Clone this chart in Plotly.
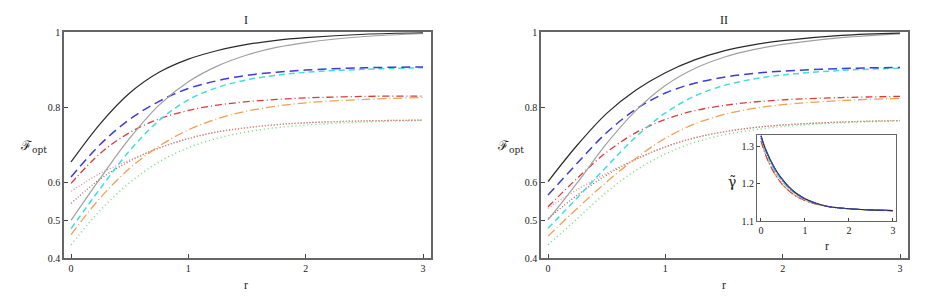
import plotly.graph_objects as go

# ---------------- data ----------------
r_vals = [0, 0.25, 0.5, 0.75, 1.0, 1.25, 1.5, 1.75, 2.0, 2.5, 3.0]

# Panel I
I_black = [0.655, 0.757, 0.838, 0.893, 0.928, 0.951, 0.967, 0.978, 0.985, 0.994, 0.998]
I_gray = [0.500, 0.612, 0.718, 0.806, 0.868, 0.910, 0.939, 0.959, 0.972, 0.988, 0.996]
I_blue = [0.615, 0.702, 0.768, 0.816, 0.850, 0.871, 0.885, 0.893, 0.899, 0.905, 0.907]
I_cyan = [0.478, 0.585, 0.685, 0.765, 0.820, 0.853, 0.873, 0.885, 0.893, 0.901, 0.905]
I_red = [0.598, 0.678, 0.733, 0.769, 0.792, 0.806, 0.815, 0.821, 0.825, 0.829, 0.830]
I_orange = [0.462, 0.560, 0.638, 0.697, 0.740, 0.770, 0.790, 0.803, 0.812, 0.821, 0.826]
I_pink = [0.577, 0.625, 0.660, 0.692, 0.717, 0.735, 0.746, 0.754, 0.759, 0.764, 0.766]
I_brown = [0.545, 0.610, 0.657, 0.692, 0.717, 0.735, 0.746, 0.754, 0.759, 0.764, 0.766]
I_green = [0.435, 0.527, 0.600, 0.655, 0.693, 0.718, 0.735, 0.746, 0.753, 0.761, 0.765]

# Panel II
II_black = [0.603, 0.700, 0.784, 0.846, 0.892, 0.926, 0.950, 0.966, 0.977, 0.991, 0.997]
II_gray = [0.501, 0.600, 0.704, 0.792, 0.858, 0.903, 0.933, 0.953, 0.967, 0.985, 0.995]
II_blue = [0.567, 0.652, 0.733, 0.795, 0.838, 0.864, 0.880, 0.890, 0.896, 0.903, 0.906]
II_cyan = [0.479, 0.560, 0.643, 0.722, 0.785, 0.830, 0.858, 0.875, 0.886, 0.898, 0.904]
II_red = [0.536, 0.612, 0.681, 0.733, 0.768, 0.791, 0.805, 0.814, 0.820, 0.826, 0.829]
II_orange = [0.458, 0.532, 0.602, 0.665, 0.718, 0.756, 0.781, 0.797, 0.807, 0.818, 0.824]
II_pink = [0.532, 0.582, 0.625, 0.663, 0.695, 0.719, 0.735, 0.746, 0.753, 0.761, 0.765]
II_brown = [0.505, 0.567, 0.620, 0.662, 0.695, 0.719, 0.735, 0.746, 0.753, 0.761, 0.765]
II_green = [0.435, 0.505, 0.575, 0.633, 0.676, 0.707, 0.727, 0.740, 0.749, 0.759, 0.764]

# Inset (gamma tilde)
gamma_r = [0, 0.1, 0.2, 0.3, 0.4, 0.5, 0.65, 0.8, 1.0, 1.25, 1.5, 2.0, 2.5, 3.0]
gamma_hi = [1.330, 1.295, 1.268, 1.245, 1.226, 1.210, 1.190, 1.175, 1.160, 1.148, 1.140, 1.133, 1.130, 1.128]
gamma_mid = [1.324, 1.289, 1.261, 1.238, 1.220, 1.205, 1.186, 1.172, 1.158, 1.147, 1.140, 1.133, 1.130, 1.128]
gamma_lo = [1.316, 1.280, 1.252, 1.230, 1.212, 1.197, 1.180, 1.167, 1.155, 1.146, 1.139, 1.133, 1.130, 1.128]

y_ticks = [0.4, 0.5, 0.6, 0.8, 1.0]
y_tick_text = ["0.4", "0.5", "0.6", "0.8", "1"]
x_ticks = [0, 1, 2, 3]
g_ticks = [1.1, 1.2, 1.3]

# ---------------- styles ----------------
styles = {
    "black": dict(color="#2a2a2a", dash="solid", width=1.2),
    "gray": dict(color="#a0a0a0", dash="solid", width=1.2),
    "blue": dict(color="#3c3cd8", dash="9px,5px", width=1.5),
    "cyan": dict(color="#40dede", dash="6px,4px", width=1.5),
    "red": dict(color="#d83c3c", dash="7px,3px,1px,3px", width=1.3),
    "orange": dict(color="#f0a050", dash="9px,3px,1px,3px", width=1.3),
    "pink": dict(color="#e89090", dash="1px,2px", width=1.3),
    "brown": dict(color="#9a6a5a", dash="1px,2px", width=1.3),
    "green": dict(color="#70e070", dash="1px,3px", width=1.5),
}

fig = go.Figure()

panel_I = {"black": I_black, "gray": I_gray, "blue": I_blue, "cyan": I_cyan,
           "red": I_red, "orange": I_orange, "pink": I_pink, "brown": I_brown,
           "green": I_green}
panel_II = {"black": II_black, "gray": II_gray, "blue": II_blue, "cyan": II_cyan,
            "red": II_red, "orange": II_orange, "pink": II_pink, "brown": II_brown,
            "green": II_green}

draw_order = ["green", "brown", "pink", "orange", "red", "cyan", "blue", "gray", "black"]

for name in draw_order:
    fig.add_trace(go.Scatter(x=r_vals, y=panel_I[name], mode="lines",
                             line=dict(shape="spline", smoothing=1.0, **styles[name]),
                             xaxis="x", yaxis="y", showlegend=False, hoverinfo="skip"))
for name in draw_order:
    fig.add_trace(go.Scatter(x=r_vals, y=panel_II[name], mode="lines",
                             line=dict(shape="spline", smoothing=1.0, **styles[name]),
                             xaxis="x2", yaxis="y2", showlegend=False, hoverinfo="skip"))

inset_map = [("orange", gamma_lo), ("pink", gamma_lo), ("red", gamma_lo),
             ("green", gamma_mid), ("brown", gamma_mid), ("cyan", gamma_mid),
             ("gray", gamma_hi), ("black", gamma_hi), ("blue", gamma_hi)]
for name, g in inset_map:
    st = dict(styles[name])
    st["width"] = 1.1
    fig.add_trace(go.Scatter(x=gamma_r, y=g, mode="lines",
                             line=dict(shape="spline", smoothing=1.0, **st),
                             xaxis="x3", yaxis="y3", showlegend=False, hoverinfo="skip"))

W, H = 926, 305
def px_x(p):
    return p / W
def px_y(p):
    return 1 - p / H

font_tick = dict(family="Liberation Serif, Times New Roman, serif", size=10, color="#222")

axis_common = dict(showgrid=False, zeroline=False, ticks="inside", ticklen=4,
                   tickcolor="#444", showline=True, mirror=True, linecolor="#666",
                   linewidth=1.5, tickfont=font_tick, automargin=False)

fig.update_layout(
    width=W, height=H,
    margin=dict(l=0, r=0, t=0, b=0, autoexpand=False),
    paper_bgcolor="white", plot_bgcolor="white",
    xaxis=dict(domain=[px_x(64), px_x(431)], range=[-0.06, 3.068], tickvals=x_ticks,
               anchor="y", **axis_common),
    yaxis=dict(domain=[px_y(258), px_y(32)], range=[0.4, 1.0], tickvals=y_ticks,
               ticktext=y_tick_text, anchor="x", **axis_common),
    xaxis2=dict(domain=[px_x(541), px_x(908)], range=[-0.06, 3.068], tickvals=x_ticks,
                anchor="y2", **axis_common),
    yaxis2=dict(domain=[px_y(258), px_y(32)], range=[0.4, 1.0], tickvals=y_ticks,
                ticktext=y_tick_text, anchor="x2", **axis_common),
    xaxis3=dict(domain=[px_x(757), px_x(896)], range=[-0.09, 3.07], tickvals=x_ticks,
                anchor="y3", **{**axis_common, "ticklen": 3, "linewidth": 1.2}),
    yaxis3=dict(domain=[px_y(221), px_y(135)], range=[1.1, 1.332], tickvals=g_ticks,
                anchor="x3", **{**axis_common, "ticklen": 3, "linewidth": 1.2}),
)

ann_font = dict(family="Liberation Serif, Times New Roman, serif", size=12, color="#222")
label_font = dict(family="DejaVu Serif, Liberation Serif, serif", size=13, color="#222")

annotations = [
    dict(text="I", x=px_x(246), y=px_y(20), font=ann_font),
    dict(text="II", x=px_x(724), y=px_y(20), font=ann_font),
    dict(text="r", x=px_x(246), y=px_y(285), font=ann_font),
    dict(text="r", x=px_x(724), y=px_y(285), font=ann_font),
    dict(text="ℱ<sub>opt</sub>", x=px_x(33), y=px_y(146), font=label_font),
    dict(text="ℱ<sub>opt</sub>", x=px_x(510), y=px_y(146), font=label_font),
    dict(text="γ\u0303", x=px_x(732), y=px_y(182),
         font=dict(family="DejaVu Serif, serif", size=14, color="#222")),
    dict(text="r", x=px_x(827), y=px_y(246), font=ann_font),
]
for a in annotations:
    fig.add_annotation(xref="paper", yref="paper", showarrow=False,
                       xanchor="center", yanchor="middle", **a)

fig.write_html("out.html",
               config={"displayModeBar": False},
               post_script="document.body.style.margin='0';document.body.style.padding='0';document.body.style.overflow='hidden';")
